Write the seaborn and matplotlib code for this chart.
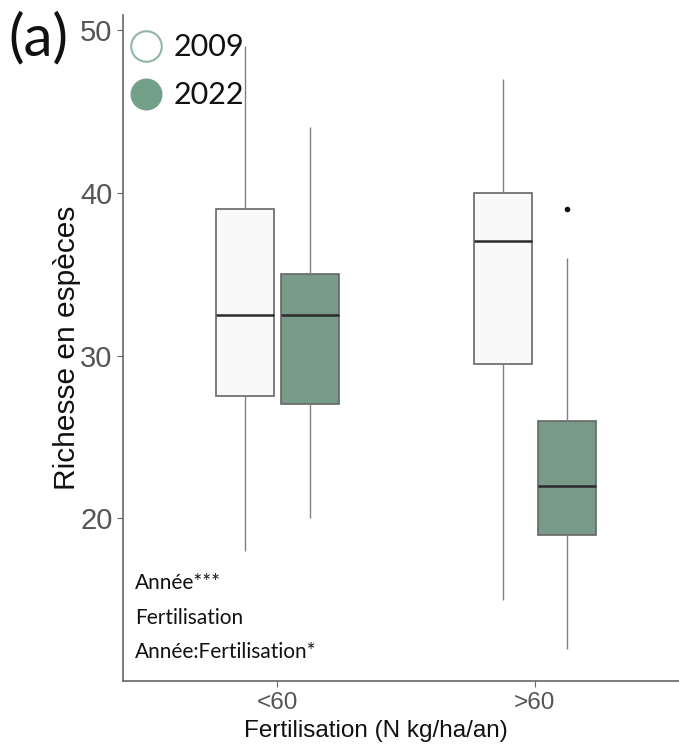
import matplotlib
matplotlib.use("Agg")
import matplotlib.pyplot as plt
from matplotlib.lines import Line2D
import seaborn as sns
import pandas as pd

# values (min, Q1, median, Q3, max for each box)
fert_levels = ["<60", ">60"]
years = ["2009", "2022"]
lt60_2009 = [18, 27.5, 32.5, 39, 49]
lt60_2022 = [20, 27, 32.5, 35, 44]
gt60_2009 = [15, 29.5, 37, 40, 47]
gt60_2022 = [12, 15, 19, 20, 22, 24, 26, 36, 39]  # 39 is the outlier
stats_lines = ["Année***", "Fertilisation", "Année:Fertilisation*"]

green = "#72a088"
white = "#f9f9f9"

rows = []
for fert, year, vals in [("<60", "2009", lt60_2009), ("<60", "2022", lt60_2022),
                         (">60", "2009", gt60_2009), (">60", "2022", gt60_2022)]:
    for v in vals:
        rows.append({"fert": fert, "year": year, "rich": v})
data = pd.DataFrame(rows)

sns.set_style("white")
plt.rcParams["font.family"] = ["Liberation Sans", "DejaVu Sans"]
calibri_like = ["Lato", "DejaVu Sans"]

fig = plt.figure(figsize=(6.79, 7.52), dpi=100)
ax = fig.add_axes([0.181, 0.094, 0.819, 0.886])

sns.boxplot(data=data, x="fert", y="rich", hue="year",
            order=fert_levels, hue_order=years,
            palette={"2009": white, "2022": green},
            width=0.5, gap=0.1, whis=1.5, linewidth=1.2,
            linecolor="#666666", showcaps=False,
            whiskerprops={"color": "#808080", "linewidth": 1.0},
            medianprops={"color": "#2b2b2b", "linewidth": 1.8},
            flierprops={"marker": "o", "markersize": 3,
                        "markerfacecolor": "#111111", "markeredgecolor": "#111111"},
            legend=False, ax=ax)

ax.set_xlim(-0.6, 1.56)
ax.set_ylim(10, 50.9)
ax.set_yticks([20, 30, 40, 50])
ax.tick_params(axis="y", labelsize=21)
ax.tick_params(axis="x", labelsize=17.5)
ax.tick_params(axis="both", labelcolor="#555555", colors="#666666",
               length=4, width=0.8, direction="out", left=True, bottom=True)
for s in ["top", "right"]:
    ax.spines[s].set_visible(False)
for s in ["left", "bottom"]:
    ax.spines[s].set_color("#666666")
    ax.spines[s].set_linewidth(1.2)

ax.set_ylabel("Richesse en espèces", fontsize=21.5, color="#111111")
ax.yaxis.set_label_coords(-0.076, 0.5)
ax.set_xlabel("Fertilisation (N kg/ha/an)", fontsize=17.5, color="#111111")
ax.xaxis.set_label_coords(0.455, -0.058)

# legend with round markers
handles = [Line2D([], [], marker="o", linestyle="", markersize=22,
                  markerfacecolor="white", markeredgecolor="#8fb8a3", markeredgewidth=1.5),
           Line2D([], [], marker="o", linestyle="", markersize=22,
                  markerfacecolor=green, markeredgecolor=green)]
ax.legend(handles, years, loc="upper left", bbox_to_anchor=(-0.047, 1.0),
          frameon=False, handletextpad=-0.1, labelspacing=0.65, borderaxespad=0.2,
          labelcolor="#111111", prop={"family": calibri_like, "size": 22})

for i, line in enumerate(stats_lines):
    ax.text(0.022, 0.147 - i * 0.0517, line, transform=ax.transAxes,
            fontsize=15, family=calibri_like, color="#111111",
            va="center", ha="left")

fig.text(0.012, 0.985, "(a)", fontsize=42, family=calibri_like,
         color="#111111", ha="left", va="top")

fig.savefig("out.png", dpi=100)
